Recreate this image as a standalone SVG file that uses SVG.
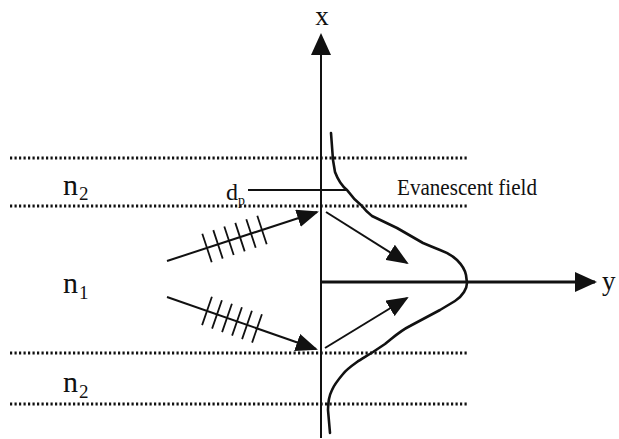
<svg xmlns="http://www.w3.org/2000/svg" width="619" height="439" viewBox="0 0 619 439">
<defs>
<style>
.dot{stroke:#111;stroke-width:3;stroke-dasharray:2.2 2.3;fill:none}
.ln{stroke:#111;stroke-width:2;fill:none}
.tk{stroke:#111;stroke-width:1.8;fill:none}
.crv{stroke:#111;stroke-width:2.6;fill:none;stroke-linejoin:round;stroke-linecap:round}
.t{font-family:"Liberation Serif","Times New Roman",serif;fill:#111}
</style>
<marker id="ah" markerUnits="userSpaceOnUse" markerWidth="22" markerHeight="18" refX="20" refY="9" orient="auto" viewBox="0 0 22 18">
<path d="M0,0 L22,9 L0,18 z" fill="#111"/>
</marker>
<marker id="ahb" markerUnits="userSpaceOnUse" markerWidth="22" markerHeight="20" refX="20" refY="10" orient="auto" viewBox="0 0 22 20">
<path d="M0,0 L22,10 L0,20 z" fill="#111"/>
</marker>
</defs>
<rect width="619" height="439" fill="#fff"/>
<g id="layers">
<line class="dot" x1="10" y1="158" x2="468" y2="158"/>
<line class="dot" x1="10" y1="206" x2="468" y2="206"/>
<line class="dot" x1="10" y1="353" x2="468" y2="353"/>
<line class="dot" x1="10" y1="404" x2="468" y2="404"/>
</g>
<g id="axes">
<line class="ln" x1="321" y1="438" x2="321" y2="35" marker-end="url(#ahb)"/>
<line x1="321" y1="282" x2="595" y2="282" stroke="#111" stroke-width="2.8" marker-end="url(#ahb)"/>
<text class="t" x="322" y="25" font-size="27" text-anchor="middle">x</text>
<text class="t" x="602" y="290" font-size="27">y</text>
</g>
<g id="field">
<path class="crv" d="M331,133 L333,160 L335,172 C338,180 342,186 347,190 C352,197 357,202 362,206 C365,210 368,213 372,216 L397,228 L423,243 C430,246 435,248 440,250 C448,253 453,256 457,260 C462,265 465,270 466,275 L467,283 C467,288 463,296 455,301 L440,310 L410,326 C400,331 395,336 385,344 L373,352 C365,357 360,360 357,362 C350,367 346,370 343,374 C338,380 334,385 332,390 C329,396 328,402 328,410 L330,433"/>
<text class="t" x="397" y="195" font-size="24" textLength="140" lengthAdjust="spacingAndGlyphs">Evanescent field</text>
</g>
<g id="dp">
<line x1="248" y1="190" x2="347" y2="190" stroke="#111" stroke-width="1.8"/>
<text class="t" x="226" y="200" font-size="24">d</text>
<text class="t" x="238" y="205" font-size="14">p</text>
</g>
<g id="labels">
<text class="t" x="63" y="195" font-size="30">n</text>
<text class="t" x="79" y="200" font-size="19">2</text>
<text class="t" x="63" y="293" font-size="30">n</text>
<text class="t" x="79" y="299" font-size="19">1</text>
<text class="t" x="63" y="392" font-size="30">n</text>
<text class="t" x="79" y="398" font-size="19">2</text>
</g>
<g id="connectors">
<g id="incident-upper">
<line class="ln" x1="167" y1="261" x2="317" y2="212" marker-end="url(#ah)"/>
<path class="tk" d="M202.3,233.7L211.7,262.2M213.3,230.1L222.7,258.6M224.3,226.5L233.7,255M235.3,222.9L244.7,251.4M246.3,219.3L255.7,247.8M257.3,215.7L266.7,244.2"/>
</g>
<g id="incident-lower">
<line class="ln" x1="167" y1="297" x2="316" y2="349" marker-end="url(#ah)"/>
<path class="tk" d="M211.9,296.8L202.1,325.1M221.9,300.3L212.1,328.6M231.9,303.8L222.1,332.1M241.9,307.3L232.1,335.6M251.9,310.8L242.1,339.1M261.9,314.3L252.1,342.6"/>
</g>
<line id="reflected-upper" class="ln" x1="326" y1="212" x2="407" y2="263" marker-end="url(#ah)"/>
<line id="reflected-lower" class="ln" x1="325" y1="348" x2="407" y2="298" marker-end="url(#ah)"/>
</g>
</svg>
